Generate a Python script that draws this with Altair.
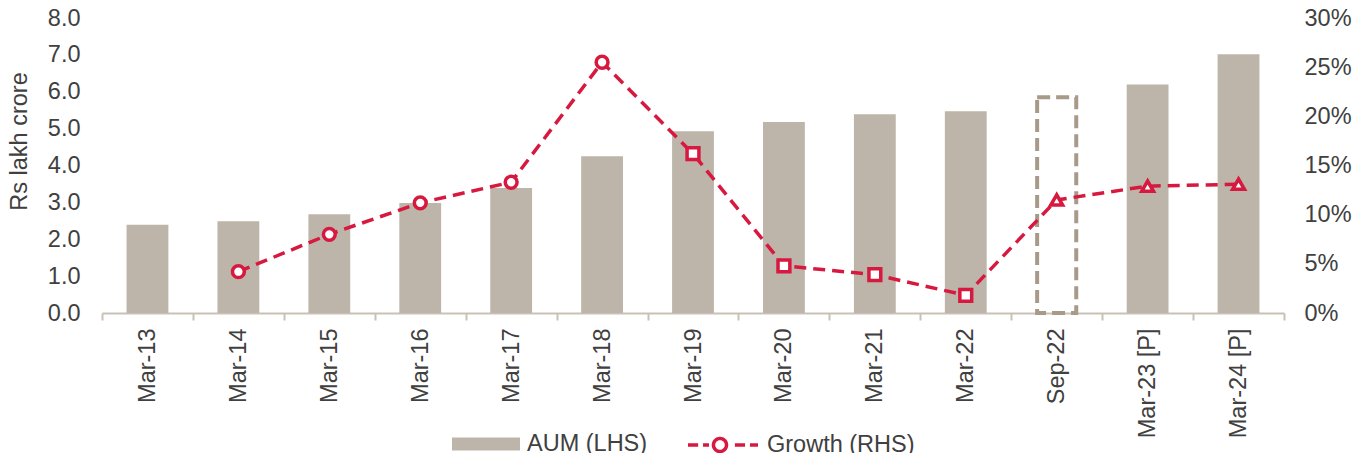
import altair as alt
import pandas as pd

periods = ["Mar-13", "Mar-14", "Mar-15", "Mar-16", "Mar-17", "Mar-18", "Mar-19",
           "Mar-20", "Mar-21", "Mar-22", "Sep-22", "Mar-23 [P]", "Mar-24 [P]"]
aum = [2.39, 2.49, 2.68, 2.98, 3.39, 4.25, 4.93, 5.18, 5.39, 5.47, 5.85, 6.20, 7.02]
growth = [None, 4.2, 8.0, 11.2, 13.3, 25.5, 16.2, 4.8, 3.9, 1.8, 11.5, 12.9, 13.1]
bar_kind = ["solid"] * 10 + ["dashed"] + ["solid"] * 2
marker = ["circle"] * 6 + ["square"] * 4 + ["triangle-up"] * 3
aum_label = "AUM (LHS)"
growth_label = "Growth (RHS)"

df = pd.DataFrame({
    "period": periods,
    "aum": aum,
    "growth": growth,
    "kind": bar_kind,
    "marker": marker,
    "aum_s": aum_label,
    "g_s": growth_label,
})

FONT = "Liberation Sans"
TXT = "#404040"
BAR = "#BDB5A9"
RED = "#D7193F"
AX = "#C9C1B6"
FS = 23.5

rect_path = "M-1,-0.19H1V0.19H-1Z"
line_path = ("M-1,0H-0.71 M-0.57,0H-0.4 M0.1,0A0.186,0.186 0 1,1 -0.272,0"
             "A0.186,0.186 0 1,1 0.1,0Z M0.34,0H0.63 M0.77,0H1")

x = alt.X("period:N", sort=periods, title=None,
          scale=alt.Scale(paddingInner=0, paddingOuter=0),
          axis=alt.Axis(labelAngle=-90, labelFontSize=FS, labelColor=TXT, labelFont=FONT,
                        labelPadding=8, tickBand="extent", tickSize=7, tickColor=AX,
                        tickWidth=2, domainColor=AX, domainWidth=2, grid=False))

yl = alt.Y("aum:Q", scale=alt.Scale(domain=[0, 8]),
           axis=alt.Axis(title="Rs lakh crore", values=[0, 1, 2, 3, 4, 5, 6, 7, 8], format=".1f",
                         labelFontSize=FS, labelColor=TXT, labelFont=FONT, labelPadding=22,
                         ticks=False, domain=False, grid=False,
                         titleFontSize=FS, titleFont=FONT, titleFontWeight="normal",
                         titleColor=TXT, titleX=-83, titleY=123, titleAngle=270,
                         titleAlign="center", titleBaseline="middle"))

bars = alt.Chart(df).transform_filter("datum.kind == 'solid'").mark_bar(
    width=alt.RelativeBandSize(0.46)
).encode(
    x=x, y=yl,
    fill=alt.Fill("aum_s:N", scale=alt.Scale(domain=[aum_label], range=[BAR]),
                  legend=alt.Legend(orient="none", legendX=350, legendY=392, title=None,
                                    symbolType=rect_path, symbolSize=4624, symbolStrokeWidth=0,
                                    labelFontSize=FS, labelColor=TXT, labelFont=FONT,
                                    labelOffset=7, padding=0)),
)

dashed = alt.Chart(df).transform_filter("datum.kind == 'dashed'").mark_bar(
    width=alt.RelativeBandSize(0.43), fill="transparent", stroke="#A89A88",
    strokeWidth=4, strokeDash=[13, 6]
).encode(x=x, y=yl)

left = alt.layer(bars, dashed)

yr = alt.Y("growth:Q", scale=alt.Scale(domain=[0, 30]),
           axis=alt.Axis(orient="right", title=None, values=[0, 5, 10, 15, 20, 25, 30],
                         labelExpr="datum.value + '%'", labelFontSize=FS, labelColor=TXT,
                         labelFont=FONT, labelPadding=20, ticks=False, domain=False, grid=False))

line = alt.Chart(df).mark_line(strokeWidth=3.5, strokeDash=[12, 7]).encode(
    x=x, y=yr,
    stroke=alt.Stroke("g_s:N", scale=alt.Scale(domain=[growth_label], range=[RED]),
                      legend=alt.Legend(orient="none", legendX=584, legendY=390, title=None,
                                        symbolType=line_path, symbolSize=4900,
                                        symbolStrokeWidth=3.5, symbolFillColor="white",
                                        symbolDash=[1, 0],
                                        labelFontSize=FS, labelColor=TXT, labelFont=FONT,
                                        labelOffset=7, padding=0)),
)

points = alt.Chart(df).mark_point(filled=False, fill="white", fillOpacity=1, stroke=RED,
                                  strokeWidth=3.5, size=140, opacity=1).encode(
    x=x, y=yr,
    shape=alt.Shape("marker:N", scale=alt.Scale(domain=["circle", "square", "triangle-up"],
                                                range=["circle", "square", "triangle-up"]),
                    legend=None),
)

right = alt.layer(line, points)

chart = alt.layer(left, right).resolve_scale(y="independent").properties(
    width=1182, height=295,
    autosize=alt.AutoSizeParams(type="none"),
    padding={"left": 94, "top": 10, "right": 72, "bottom": 140},
).configure(font=FONT).configure_view(stroke=None)

chart.save("out.html", embed_options={"renderer": "svg", "actions": False})
